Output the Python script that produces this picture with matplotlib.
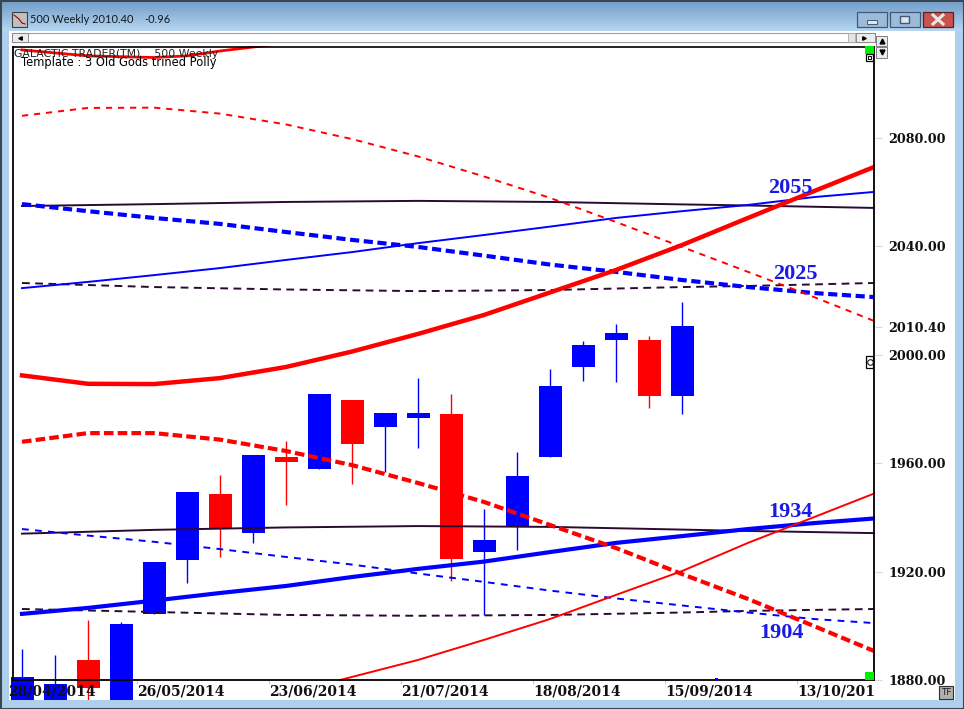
import numpy as np
import matplotlib
matplotlib.use("Agg")
import matplotlib.pyplot as plt
from matplotlib.patches import Rectangle

W, H = 964, 709

# weekly candles
candle_weeks = list(range(21))
highs = [1891.5, 1889.2, 1902.1, 1901.4, 1923.5, 1949.4, 1955.6, 1963.0, 1968.2, 1985.5, 1983.3,
         1978.5, 1991.4, 1985.5, 1943.1, 1964.1, 1994.8, 2005.1, 2011.4, 2006.9, 2019.5]
lows = [1870.0, 1870.0, 1870.0, 1870.0, 1904.4, 1915.8, 1925.4, 1930.6, 1944.6, 1957.9, 1952.3,
        1956.8, 1965.6, 1916.5, 1904.0, 1928.0, 1962.3, 1990.3, 1990.0, 1980.4, 1978.2]
body_tops = [1881.1, 1878.5, 1887.4, 1900.7, 1923.5, 1949.4, 1948.6, 1963.0, 1962.3, 1985.5, 1983.3,
             1978.5, 1978.5, 1978.2, 1931.7, 1955.3, 1988.5, 2003.6, 2008.0, 2005.5, 2010.6]
body_bottoms = [1870.0, 1870.0, 1877.0, 1870.0, 1904.4, 1924.3, 1936.1, 1934.2, 1960.4, 1957.9, 1967.1,
                1973.4, 1976.7, 1924.6, 1927.2, 1936.5, 1962.3, 1995.5, 2005.5, 1984.8, 1984.8]
candle_colors = ["blue", "blue", "red", "blue", "blue", "blue", "red", "blue", "red", "blue", "red",
                 "blue", "blue", "red", "blue", "blue", "blue", "blue", "blue", "red", "blue"]

# planet lines
line_weeks = [0, 2, 4, 6, 8, 10, 12, 14, 16, 18, 20, 22, 24, 25.82]
red_thick = [1992.4, 1989.3, 1989.2, 1991.4, 1995.5, 2001.2, 2007.7, 2014.7, 2023.0, 2031.3, 2040.5,
             2050.5, 2060.4, 2069.3]
red_dash_upper = [2088.2, 2091.1, 2091.2, 2089.0, 2085.0, 2079.6, 2073.2, 2065.8, 2057.9, 2049.0,
                  2039.8, 2030.6, 2021.3, 2012.5]
red_dash_lower = [1967.9, 1971.1, 1971.1, 1968.7, 1964.5, 1959.3, 1952.7, 1945.7, 1937.2, 1928.7,
                  1919.1, 1909.9, 1899.9, 1890.7]
blue_thick = [1904.4, 1906.6, 1909.3, 1912.1, 1914.7, 1918.0, 1921.0, 1923.7, 1927.2, 1930.6, 1933.1,
              1935.7, 1937.9, 1939.6]
blue_thin = [2024.6, 2026.9, 2029.4, 2032.0, 2035.0, 2037.9, 2041.2, 2044.2, 2047.3, 2050.5, 2053.0,
             2055.3, 2058.2, 2060.1]
blue_dash_upper = [2055.6, 2053.0, 2050.5, 2048.3, 2045.3, 2042.4, 2039.8, 2036.6, 2033.3, 2030.6,
                   2027.6, 2025.0, 2022.8, 2021.3]
blue_dash_lower = [1935.7, 1933.3, 1931.0, 1928.3, 1925.4, 1922.6, 1919.3, 1916.2, 1913.0, 1910.1,
                   1907.5, 1904.9, 1902.5, 1901.0]

red_top_weeks = [0, 2, 4, 5, 6, 7.5, 8.4]
red_top = [2112.5, 2110.3, 2109.7, 2110.3, 2112.1, 2114.3, 2116.9]
red_low_weeks = [9.64, 12, 14, 16, 18, 20, 22, 24, 25.82]
red_low = [1880.0, 1887.4, 1894.8, 1902.5, 1911.4, 1920.2, 1930.6, 1940.1, 1948.8]

dark_weeks = [0, 4, 8, 12, 16, 20, 22, 25.82]
dark_upper = [2054.9, 2055.6, 2056.4, 2056.8, 2056.4, 2055.5, 2055.1, 2054.2]
dark_lower = [1934.0, 1935.4, 1936.3, 1936.8, 1936.5, 1935.5, 1935.0, 1934.2]
dark_dash_upper = [2026.5, 2025.0, 2024.1, 2023.5, 2023.9, 2025.0, 2025.4, 2026.5]
dark_dash_lower = [1906.2, 1905.1, 1904.0, 1903.7, 1904.0, 1904.9, 1905.5, 1906.2]

# axis labels
y_ticks = [1880, 1920, 1960, 2000, 2010.4, 2040, 2080]
y_labels = ["1880.00", "1920.00", "1960.00", "2000.00", "2010.40", "2040.00", "2080.00"]
date_weeks = [-0.42, 3.48, 7.48, 11.48, 15.48, 19.48, 23.48]
date_labels = ["28/04/2014", "26/05/2014", "23/06/2014", "21/07/2014", "18/08/2014", "15/09/2014", "13/10/2014"]
levels = [("2055", 22.6, 2061.6), ("2025", 22.76, 2029.9), ("1934", 22.6, 1942.0), ("1904", 22.33, 1897.4)]

DARK = "#2a0a30"
SERIF = "Liberation Serif"
TICK_FONT = "DejaVu Serif"


def box(ax, x, y, w, h, fc, ec="none", lw=0, z=1):
    ax.add_patch(Rectangle((x, y), w, h, fc=fc, ec=ec, lw=lw, zorder=z))


fig = plt.figure(figsize=(W / 100, H / 100), dpi=100)

# window frame behind the chart
bg = fig.add_axes([0, 0, 1, 1], zorder=0)
bg.set_xlim(0, W)
bg.set_ylim(H, 0)
bg.axis("off")
box(bg, 0, 0, W, H, "#aed0ec")
bg.imshow(np.linspace(0, 1, 32).reshape(-1, 1), extent=(0, W, 31, 0), aspect="auto", zorder=1,
          cmap=matplotlib.colors.LinearSegmentedColormap.from_list("t", ["#6f9cc8", "#b6d5ef"]))
bg.set_xlim(0, W)
bg.set_ylim(H, 0)
box(bg, 9, 31, 946, 669, "white", z=2)
box(bg, 0.5, 0.5, W - 1, H - 1, "none", ec="#3c4650", lw=1.5, z=3)
bg.text(30, 19.5, "500 Weekly 2010.40", fontsize=7.9, family="Lato", color="#101820", va="center", zorder=4)
bg.text(144, 19.5, "-0.96", fontsize=7.9, family="Lato", color="#101820", va="center", zorder=4)

# title icon
box(bg, 12, 12, 15, 15, "#c0c0c0", ec="#404040", lw=0.8, z=4)
bg.plot([14, 19, 22, 25], [15, 19, 23, 24], color="#a00000", lw=0.8, zorder=5)

# caption buttons
box(bg, 857, 12, 30, 15, "#9dbbd9", ec="#3d5a78", lw=0.9, z=4)
box(bg, 867, 20, 10, 4, "#dfe6ee", ec="#3d5a78", lw=0.7, z=5)
box(bg, 890, 12, 30, 15, "#9dbbd9", ec="#3d5a78", lw=0.9, z=4)
box(bg, 900, 16, 9, 7, "#dfe6ee", ec="#3d5a78", lw=1, z=5)
box(bg, 923, 12, 30, 15, "#c8544c", ec="#5a2028", lw=0.9, z=4)
bg.plot([933, 943], [15, 24], color="#e8e8e8", lw=2.2, zorder=5)
bg.plot([943, 933], [15, 24], color="#e8e8e8", lw=2.2, zorder=5)

# scroll bar
box(bg, 12, 33, 863, 9, "white", ec="#a0a0a0", lw=0.8, z=4)
box(bg, 12, 33, 16, 9, "#ececec", ec="#808080", lw=0.6, z=5)
box(bg, 856, 33, 19, 9, "#ececec", ec="#808080", lw=0.6, z=5)
box(bg, 848, 33, 7, 9, "#e4e4e4", ec="#a0a0a0", lw=0.5, z=5)
bg.plot(20, 37.5, marker="<", ms=2.5, color="black", zorder=6)
bg.plot(864, 37.5, marker=">", ms=2.5, color="black", zorder=6)
box(bg, 876, 36, 11, 10, "#ececec", ec="#808080", lw=0.7, z=4)
box(bg, 876, 47, 11, 11, "#ececec", ec="#808080", lw=0.7, z=4)
bg.plot(881.5, 41, marker="^", ms=3.5, color="black", zorder=6)
bg.plot(881.5, 52, marker="v", ms=3.5, color="black", zorder=6)

# chart
left, right, top, bottom = 7, 875, 46, 700
ax = fig.add_axes([left / W, 1 - bottom / H, (right - left) / W, (bottom - top) / H], zorder=1)
ax.patch.set_alpha(0)
ax.set_xlim((left - 22) / 33, (right - 22) / 33)
ax.set_ylim(1880 - 20 / 2.71, 1880 + 634 / 2.71)
for s in ax.spines.values():
    s.set_visible(False)

for wk, hi, lo, t, b, c in zip(candle_weeks, highs, lows, body_tops, body_bottoms, candle_colors):
    ax.plot([wk, wk], [lo, hi], color=c, lw=1, solid_capstyle="butt", zorder=2)
    ax.bar(wk, t - b, bottom=b, width=23 / 33, color=c, zorder=2)

ax.plot(dark_weeks, dark_upper, color=DARK, lw=1.4, zorder=3)
ax.plot(dark_weeks, dark_lower, color=DARK, lw=1.4, zorder=3)
ax.plot(dark_weeks, dark_dash_upper, color=DARK, lw=1.4, ls=(0, (4, 2.8)), zorder=3)
ax.plot(dark_weeks, dark_dash_lower, color=DARK, lw=1.4, ls=(0, (4, 2.8)), zorder=3)
ax.plot(line_weeks, blue_thin, color="blue", lw=1.4, zorder=4)
ax.plot(line_weeks, blue_thick, color="blue", lw=3, zorder=4)
ax.plot(line_weeks, blue_dash_upper, color="blue", lw=3, ls=(0, (2.2, 1.1)), zorder=4)
ax.plot(line_weeks, blue_dash_lower, color="blue", lw=1.4, ls=(0, (3.5, 3.2)), zorder=4)
ax.plot(red_top_weeks, red_top, color="red", lw=2, zorder=5)
ax.plot(red_low_weeks, red_low, color="red", lw=1.4, zorder=5)
ax.plot(line_weeks, red_thick, color="red", lw=3.2, zorder=5)
ax.plot(line_weeks, red_dash_upper, color="red", lw=1.4, ls=(0, (3.2, 3)), zorder=5)
ax.plot(line_weeks, red_dash_lower, color="red", lw=3, ls=(0, (2.3, 1)), zorder=5)

# frame stops at 1880, the candles run on below it
frame_l = (13 - 22) / 33
frame_r = (874 - 22) / 33
y_top = ax.get_ylim()[1]
ax.plot([frame_l, frame_r], [1880, 1880], color="black", lw=1.3, zorder=6)
ax.plot([frame_l, frame_l], [1880, y_top], color="black", lw=1.3, zorder=6)
ax.plot([frame_r, frame_r], [1880, y_top], color="black", lw=1.3, zorder=6)
ax.plot([frame_l, frame_r], [y_top - 0.2, y_top - 0.2], color="black", lw=1.2, zorder=6)

ax.set_xticks([])
ax.yaxis.tick_right()
ax.set_yticks(y_ticks)
ax.set_yticklabels(y_labels, family=TICK_FONT, fontweight="bold", fontsize=9.2, color="#101010")
ax.tick_params(axis="y", length=5, width=0.8, color="#d8d8d8", pad=4.5)

for wk, lab in zip(date_weeks, date_labels):
    ax.text(wk, 1875.7, lab, family=TICK_FONT, fontweight="bold", fontsize=10, color="#101010",
            ha="left", va="center", clip_on=True, zorder=7)
    if wk > 0:
        ax.plot([wk, wk], [1880, 1879], color="#c8c8c8", lw=0.8, clip_on=False, zorder=1)

for lab, wk, val in levels:
    ax.text(wk, val, lab, family=SERIF, fontweight="bold", fontsize=16, color="#1a1ae6", ha="left",
            va="center", zorder=8)

ax.text(frame_l + 0.03, 2111, "GALACTIC TRADER(TM)    500 Weekly", family="DejaVu Sans", fontsize=7.8,
        color="#202020", va="center", zorder=8)
ax.text(frame_l + 0.24, 2108, "Template : 3 Old Gods trined Polly", family="DejaVu Sans", fontsize=8.3,
        color="black", va="center", zorder=8)

# little markers on the frame, drawn in pixels
fr = fig.add_axes([0, 0, 1, 1], zorder=2)
fr.set_xlim(0, W)
fr.set_ylim(H, 0)
fr.axis("off")
box(fr, 865, 46, 9, 8, "#00f000", z=2)
box(fr, 865, 672, 9, 8, "#00f000", z=2)
box(fr, 866, 54, 7, 7, "white", ec="black", lw=0.9, z=3)
box(fr, 868, 56, 3, 2.5, "white", ec="black", lw=0.7, z=4)
box(fr, 866, 356, 7, 12, "white", ec="black", lw=0.9, z=3)
fr.plot(869.5, 362, marker="o", ms=4, mfc="white", mec="black", mew=0.7, zorder=4)
box(fr, 715, 678, 3, 3, "blue", z=3)
box(fr, 939, 686, 14, 13, "#b0b0b0", ec="#303030", lw=0.8, z=3)
fr.text(946, 692.5, "TF", fontsize=6.5, family="DejaVu Sans", color="#202020", ha="center", va="center", zorder=4)

fig.savefig("out.png", dpi=100)
